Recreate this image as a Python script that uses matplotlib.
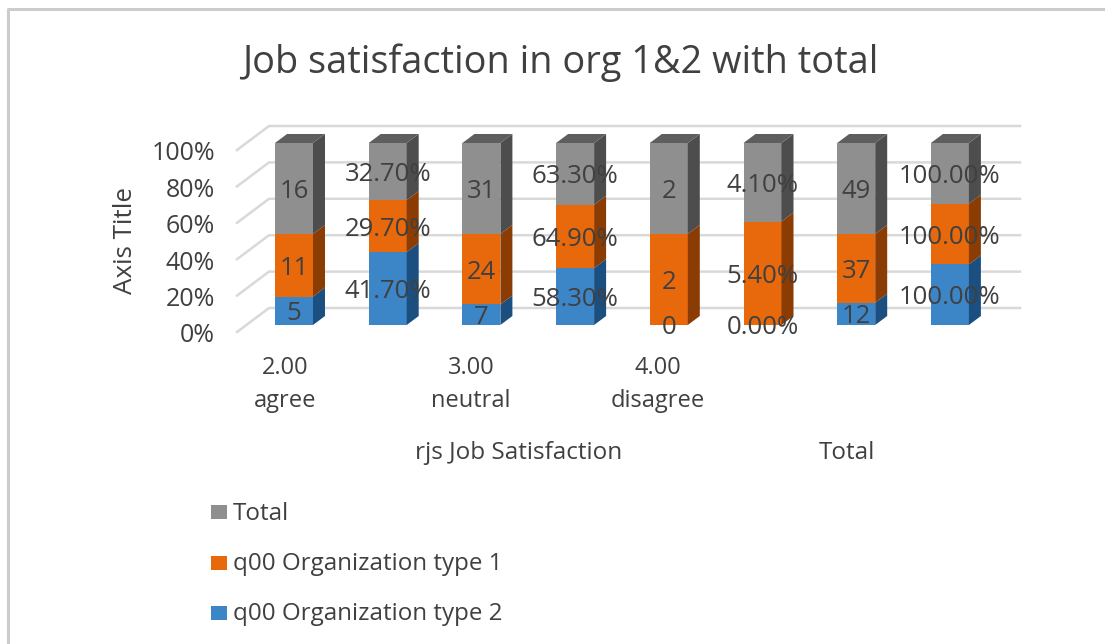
#!/usr/bin/env python
"""Job satisfaction in org 1&2 - Excel style 3D stacked 100% columns."""
import matplotlib

matplotlib.use("Agg")
import matplotlib.pyplot as plt
from matplotlib.patches import Polygon, Rectangle
import numpy as np

plt.rcParams["font.family"] = ["Open Sans", "DejaVu Sans"]

TITLE = "Job satisfaction in org 1&2 with total"
SERIES = ["q00 Organization type 2", "q00 Organization type 1", "Total"]

# columns alternate: counts, then percent of the row
org2_vals = [5, 41.7, 7, 58.3, 0, 0.0, 12, 100.0]
org1_vals = [11, 29.7, 24, 64.9, 2, 5.4, 37, 100.0]
total_vals = [16, 32.7, 31, 63.3, 2, 4.1, 49, 100.0]

org2_labels = ["5", "41.70%", "7", "58.30%", "0", "0.00%", "12", "100.00%"]
org1_labels = ["11", "29.70%", "24", "64.90%", "2", "5.40%", "37", "100.00%"]
total_labels = ["16", "32.70%", "31", "63.30%", "2", "4.10%", "49", "100.00%"]

y_ticks = [0, 20, 40, 60, 80, 100]
cat_labels = ["2.00\nagree", "3.00\nneutral", "4.00\ndisagree"]
cat_positions = [-0.09, 1.89, 3.88]
group_labels = ["rjs Job Satisfaction", "Total"]
group_positions = [2.4, 5.9]

FRONT = ["#3c85c6", "#e8680c", "#8f8f8f"]
SIDE = ["#1b4f80", "#8a3c02", "#4d4d4d"]
TOP_FACE = "#5e5e5e"
GRID = "#d9d9d9"
TEXT = "#404040"

W, H = 1105, 644
fig = plt.figure(figsize=(W / 100, H / 100), dpi=100)

# full-figure pixel layer for the frame, title and legend
bg = fig.add_axes([0, 0, 1, 1])
bg.set_xlim(0, W)
bg.set_ylim(H, 0)
bg.axis("off")
bg.plot([8, 8, 1105], [644, 9, 9], color="#cccccc", lw=2.2)
bg.text(560, 63, TITLE, ha="center", va="center", fontsize=27.3, color=TEXT)
bg.text(125, 240, "Axis Title", rotation=90, ha="center", va="center",
        fontsize=18.7, color=TEXT)
for i, name in enumerate(reversed(SERIES)):
    y = 511 + i * 50.5
    bg.add_patch(Rectangle((211, y - 6), 16, 14, color=FRONT[2 - i], lw=0))
    bg.text(233, y + 2.5, name, va="center", fontsize=17.4, color=TEXT)

# chart axes: x in column units (93.7 px apart), y in percent
x0_px, col_px, bar_px = 294.0, 93.7, 38.0
bottom_px, top_px = 325.0, 143.0
px_y = 100 / (bottom_px - top_px)  # percent per pixel
ax = fig.add_axes([0, 0, 1, 1], facecolor="none")
ax.set_xlim(-x0_px / col_px, (W - x0_px) / col_px)
ax.set_ylim((bottom_px - H) * px_y, bottom_px * px_y)
ax.axis("off")

depth_x, depth_y = 12 / col_px, 9 * px_y
bar_w = bar_px / col_px

# walls: gridlines on the back plane, slanted lines to the front
wall_dx, wall_dy = 32 / col_px, 24 * px_y
front_x = (237 - x0_px) / col_px
back_right = (1020 - x0_px) / col_px
for t in y_ticks:
    yf = t - 7 * px_y
    ax.plot([front_x, front_x + wall_dx, back_right], [yf, yf + wall_dy, yf + wall_dy],
            color=GRID, lw=1.8, zorder=1, solid_joinstyle="round")
    ax.text((215 - x0_px) / col_px, yf - 4 * px_y, f"{t}%", ha="right", va="center",
            fontsize=18, color=TEXT)

xs = np.arange(len(total_vals))
stack = np.array([org2_vals, org1_vals, total_vals], dtype=float)
shares = stack / stack.sum(axis=0) * 100
labels = [org2_labels, org1_labels, total_labels]

bottoms = np.zeros(len(xs))
for s in range(3):
    ax.bar(xs, shares[s], bar_w, bottom=bottoms, color=FRONT[s], lw=0, zorder=3)
    for x, b, h, lab in zip(xs, bottoms, shares[s], labels[s]):
        r = x + bar_w / 2
        ax.add_patch(Polygon([(r, b), (r + depth_x, b + depth_y),
                              (r + depth_x, b + h + depth_y), (r, b + h)],
                             color=SIDE[s], lw=0, zorder=3))
        ax.text(x, b + h / 2 - 3 * px_y, lab, ha="center", va="center", fontsize=18.5,
                color=TEXT, zorder=5)
    bottoms += shares[s]

for x in xs:
    l, r = x - bar_w / 2, x + bar_w / 2
    ax.add_patch(Polygon([(l, 100), (r, 100), (r + depth_x, 100 + depth_y),
                          (l + depth_x, 100 + depth_y)], color=TOP_FACE, lw=0, zorder=3))

for p, lab in zip(cat_positions, cat_labels):
    ax.text(p, (bottom_px - 384.5) * px_y, lab, ha="center", va="center",
            fontsize=17, color=TEXT, linespacing=1.45)
for p, lab in zip(group_positions, group_labels):
    ax.text(p, (bottom_px - 453) * px_y, lab, ha="center", va="center",
            fontsize=17.5, color=TEXT)

fig.savefig("out.png", dpi=100)
